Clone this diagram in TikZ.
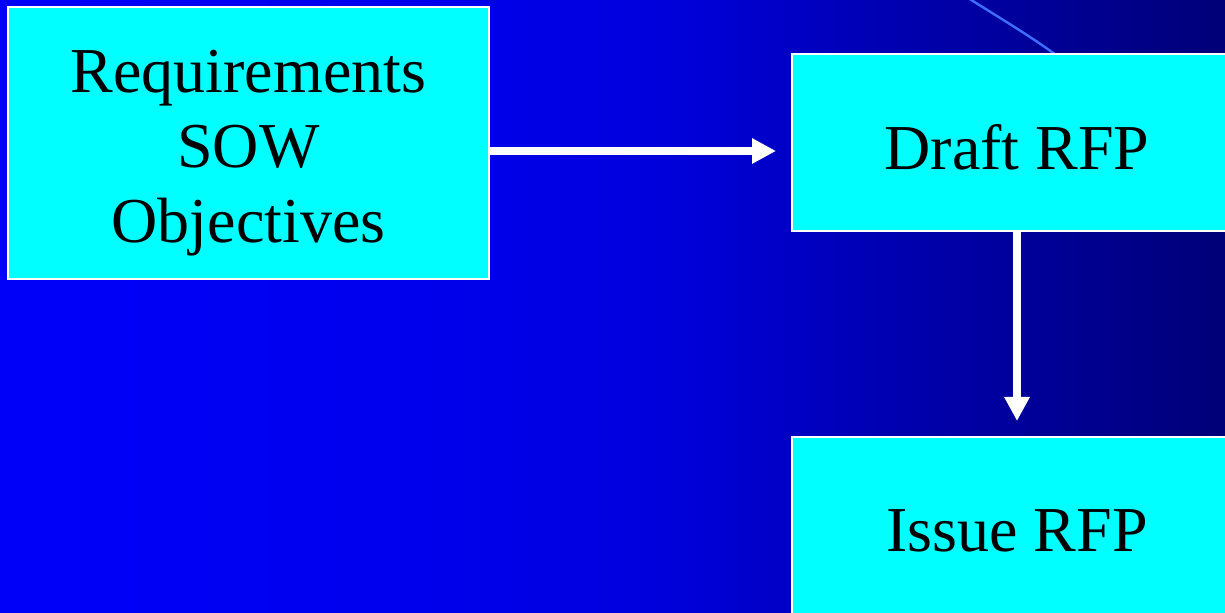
\documentclass[tikz,border=0pt]{standalone}
\usepackage{fontspec}
\setmainfont{Liberation Serif}
\usetikzlibrary{arrows.meta,positioning,calc}

\definecolor{boxcyan}{RGB}{0,255,255}
\definecolor{arcblue}{RGB}{60,110,255}
\pgfdeclarehorizontalshading{bgshade}{100bp}{
  rgb(0bp)=(0,0,0.98); rgb(25bp)=(0,0,0.98); rgb(41.5bp)=(0,0,0.93);
  rgb(50bp)=(0,0,0.88); rgb(53.5bp)=(0,0,0.84); rgb(61.5bp)=(0,0,0.69);
  rgb(70bp)=(0,0,0.55); rgb(75bp)=(0,0,0.47); rgb(100bp)=(0,0,0.47)}

\begin{document}
\begin{tikzpicture}[
  x=0.5pt, y=-0.5pt,
  arr/.style={-{Triangle[length=12pt,width=12pt]}, line width=4pt, white},
  blk/.style={draw=white, line width=1pt, fill=boxcyan, inner sep=0pt},
  lbl/.style={align=center, inner sep=0pt, font=\fontsize{32}{37.5}\selectfont},
  deco/.style={line width=1.2pt, draw=arcblue}
]
  \clip (0,0) rectangle (1225,613);
  \shade[shading=bgshade] (0,0) rectangle (1225,613);

  % thin arc in the top right corner
  \draw[deco] (968,-2) .. controls (1000,18) and (1030,36) .. (1056,55);

  \node[blk, minimum width=240.5pt, minimum height=136pt,
    label={[lbl, yshift=-5pt]center:Requirements\\SOW\\Objectives}] (req) at (248.5,143) {};
  \node[blk, minimum width=225pt, minimum height=88.5pt,
    label={[lbl, yshift=-2.5pt]center:Draft RFP}] (draft) at (1017,142.5) {};
  \node[blk, minimum width=225pt, minimum height=88.5pt,
    label={[lbl, yshift=-2.5pt]center:Issue RFP}] (issue) at (1017,525.5) {};

  \draw[arr, shorten >=7.5pt] ([yshift=-4pt]req.east) -- ([yshift=-4pt]req.east -| draft.west);
  \draw[arr, shorten >=7.5pt] (draft.south) -- (issue.north);
\end{tikzpicture}
\end{document}
